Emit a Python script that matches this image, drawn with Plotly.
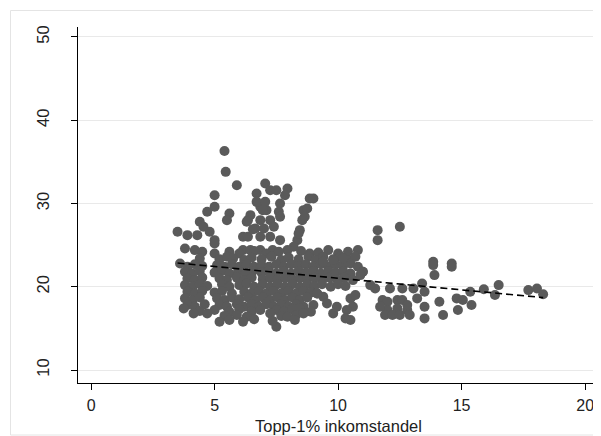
import plotly.graph_objects as go

# Upper scatter (above the dense core)
upper_pts = [
    (5.4, 36.3), (5.45, 33.8), (5.9, 32.2), (5.0, 31.0), (5.0, 29.6), (5.6, 28.8), (5.5, 28.0),
    (4.7, 29.0), (4.4, 27.8), (4.55, 27.2), (3.5, 26.6), (3.9, 26.2), (4.3, 26.2), (4.8, 26.6),
    (5.0, 25.6), (3.8, 24.6), (4.2, 24.4), (4.5, 24.2), (5.0, 25.2), (5.0, 24.0), (4.4, 23.4),
    (6.15, 26.0), (6.35, 26.0), (6.45, 28.6), (6.35, 28.0), (6.85, 29.6), (6.7, 31.2), (7.05, 32.4),
    (7.25, 31.6), (7.5, 31.6), (7.95, 31.8), (7.65, 30.0), (7.6, 29.0), (7.1, 29.2), (6.85, 28.0),
    (7.25, 28.0), (6.65, 27.0), (8.85, 30.6), (9.0, 30.6), (8.6, 29.2), (8.55, 28.0), (8.45, 26.8),
    (8.35, 25.6), (8.2, 24.8), (6.85, 26.0), (7.25, 26.0), (7.65, 25.6), (6.15, 24.4), (6.45, 24.4),
    (6.85, 24.4), (7.35, 24.4), (7.95, 24.4), (11.6, 26.8), (11.6, 25.6), (12.5, 27.2), (10.8, 24.4),
    (10.4, 24.2), (8.85, 24.0), (7.85, 31.0), (6.7, 30.2), (7.05, 30.2), (6.95, 29.2), (6.3, 27.8),
    (7.65, 28.4), (6.55, 26.9), (8.75, 29.4), (8.65, 28.4), (8.4, 26.4), (7.0, 27.0), (7.4, 27.2),
]

# Dense core
core_pts = [
    (5.6, 24.2), (6.0, 24.0), (6.6, 24.3), (7.1, 24.0), (7.6, 24.2), (8.5, 24.3), (9.2, 24.1),
    (9.6, 24.4), (10.0, 24.0),
    (5.2, 23.3), (5.5, 23.6), (5.75, 23.4), (6.2, 23.2), (6.5, 23.5), (6.9, 23.3), (7.3, 23.6),
    (7.7, 23.2), (8.0, 23.5), (8.4, 23.3), (8.8, 23.6), (9.1, 23.2), (9.4, 23.6), (9.8, 23.3),
    (10.1, 23.6), (10.4, 23.2), (10.7, 23.6),
    (3.6, 22.8), (3.9, 22.4), (4.2, 22.7), (4.5, 22.5), (5.1, 22.6), (5.4, 22.4), (5.7, 22.7),
    (6.0, 22.4), (6.3, 22.7), (6.6, 22.4), (6.9, 22.6), (7.2, 22.4), (7.5, 22.7), (7.8, 22.4),
    (8.1, 22.7), (8.4, 22.5), (8.7, 22.7), (9.0, 22.4), (9.3, 22.7), (9.6, 22.4), (9.9, 22.7),
    (10.2, 22.5), (10.5, 22.8), (10.8, 22.4),
    (3.8, 21.8), (4.1, 21.6), (4.4, 21.9), (5.0, 21.7), (5.3, 21.9), (5.6, 21.6), (5.95, 21.9),
    (6.25, 21.6), (6.55, 21.9), (6.9, 21.7), (7.2, 21.9), (7.5, 21.6), (7.8, 21.9), (8.1, 21.6),
    (8.4, 21.9), (8.7, 21.7), (9.0, 21.9), (9.3, 21.6), (9.6, 21.9), (9.9, 21.7), (10.2, 21.9),
    (10.5, 21.6), (11.0, 21.8),
    (3.9, 21.0), (4.2, 20.8), (4.5, 21.1), (5.2, 21.0), (5.5, 20.8), (5.9, 21.1), (6.2, 20.8),
    (6.5, 21.1), (6.95, 20.9), (7.25, 21.1), (7.55, 20.8), (7.85, 21.1), (8.15, 20.8), (8.45, 21.1),
    (8.75, 20.9), (9.05, 21.1), (9.35, 20.8), (9.65, 21.1), (9.95, 20.9), (10.25, 21.1), (10.6, 20.8),
    (3.8, 20.2), (4.1, 20.0), (4.4, 20.3), (4.7, 20.1), (5.3, 20.3), (5.6, 20.0), (6.0, 20.2),
    (6.3, 20.4), (6.6, 20.0), (6.95, 20.3), (7.25, 20.0), (7.55, 20.3), (7.85, 20.0), (8.15, 20.3),
    (8.45, 20.0), (8.75, 20.3), (9.05, 20.1), (9.35, 20.3), (9.7, 20.0), (10.0, 20.3), (10.3, 20.1),
    (3.9, 19.4), (4.2, 19.2), (4.5, 19.5), (5.0, 19.3), (5.3, 19.5), (5.7, 19.2), (6.2, 19.4),
    (6.5, 19.2), (6.8, 19.5), (7.1, 19.2), (7.4, 19.5), (7.7, 19.2), (8.0, 19.5), (8.3, 19.2),
    (8.6, 19.5), (8.9, 19.3), (9.15, 19.2),
    (3.8, 18.6), (4.1, 18.4), (4.4, 18.7), (5.1, 18.6), (5.4, 18.4), (5.7, 18.7), (6.0, 18.5),
    (6.35, 18.7), (6.65, 18.4), (6.95, 18.7), (7.25, 18.4), (7.55, 18.7), (7.85, 18.4), (8.15, 18.7),
    (8.45, 18.4), (8.75, 18.7), (9.4, 18.8),
    (3.9, 17.8), (4.2, 17.6), (4.6, 17.9), (5.2, 17.8), (5.5, 17.6), (5.9, 17.9), (6.2, 17.6),
    (6.5, 17.9), (6.8, 17.6), (7.1, 17.9), (7.4, 17.6), (7.7, 17.9), (8.0, 17.6), (8.3, 17.9),
    (8.6, 17.6), (9.0, 17.8),
    (3.75, 17.4), (4.4, 17.1), (5.0, 17.2), (5.6, 17.0), (6.0, 17.3), (6.5, 17.0), (6.85, 17.2),
    (7.5, 17.2), (7.8, 17.0), (8.15, 17.3), (8.45, 17.4), (8.9, 17.0),
    (4.15, 16.8), (4.7, 16.8), (5.4, 16.5), (5.9, 16.6), (6.3, 16.4), (7.25, 16.8), (7.7, 16.5),
    (8.3, 16.6), (8.6, 16.8),
    (5.2, 15.8), (5.6, 16.0), (6.15, 15.8), (6.6, 16.1), (7.95, 16.4), (8.25, 16.0), (7.5, 15.2),
    (7.35, 15.9),
]

# Right tail
tail_pts = [
    (10.2, 23.4), (9.8, 23.2), (9.4, 23.0), (11.0, 21.8), (10.9, 21.4), (11.3, 20.2), (11.5, 19.8),
    (12.1, 19.8), (12.6, 19.8), (13.05, 19.8), (13.4, 20.4), (13.5, 19.4), (13.2, 18.6), (13.85, 23.0),
    (13.85, 22.6), (13.9, 21.4), (14.6, 22.8), (14.6, 22.4), (14.1, 18.2), (13.5, 17.6), (14.25, 16.6),
    (13.5, 16.2), (11.8, 18.4), (12.0, 18.2), (12.4, 18.4), (12.6, 18.4), (12.0, 17.2), (12.4, 17.4),
    (12.8, 17.2), (11.9, 16.6), (12.2, 16.6), (12.5, 16.6), (12.9, 16.6), (11.7, 17.6), (12.8, 17.8),
    (10.5, 18.6), (10.7, 19.0), (10.6, 17.6), (10.35, 17.2), (9.8, 16.8), (10.5, 16.0), (10.3, 16.2),
    (9.55, 18.0), (9.15, 19.2), (9.95, 17.6), (14.8, 18.6), (14.85, 17.2), (15.05, 18.4),
    (15.35, 19.4), (15.4, 17.8), (15.9, 19.7), (16.35, 19.0), (16.5, 20.2), (17.7, 19.6),
    (18.05, 19.8), (18.3, 19.1),
]

# Fitted line
fit_x = [3.5, 18.3]
fit_y = [22.85, 18.7]

x_ticks = [0, 5, 10, 15, 20]
y_ticks = [10, 20, 30, 40, 50]
x_title = "Topp-1% inkomstandel"

all_pts = upper_pts + core_pts + tail_pts
xs = [p[0] for p in all_pts]
ys = [p[1] for p in all_pts]

fig = go.Figure()
fig.add_trace(go.Scatter(
    x=xs, y=ys, mode="markers",
    marker=dict(size=10, color="#5a5a5a", line=dict(width=0)),
    showlegend=False, hoverinfo="skip",
))
fig.add_trace(go.Scatter(
    x=fit_x, y=fit_y, mode="lines",
    line=dict(color="black", width=1.6, dash="7px,4px"),
    showlegend=False, hoverinfo="skip",
))

# page has an 8px body margin; figure is sized to fit the 601x436 window
W, H = 593, 428
L, R, T, B = 70, 6, 19, 53
pw, ph = W - L - R, H - T - B

fig.update_layout(
    width=W, height=H,
    margin=dict(l=L, r=R, t=T, b=B, autoexpand=False),
    paper_bgcolor="white", plot_bgcolor="white",
    font=dict(family="Liberation Sans, Arial, sans-serif", size=16, color="#222"),
    xaxis=dict(
        range=[-0.53, 20.4], tickvals=x_ticks, ticks="outside", ticklen=6, tickcolor="black",
        showline=True, linecolor="black", linewidth=1, showgrid=False, zeroline=False,
        tickfont=dict(size=16), ticklabelstandoff=2,
        automargin=False,
    ),
    yaxis=dict(
        range=[8.44, 51.2], tickvals=y_ticks, ticks="outside", ticklen=6, tickcolor="black",
        showline=True, linecolor="black", linewidth=1, showgrid=True, gridcolor="#e9e9e9",
        gridwidth=1, zeroline=False, tickangle=-90, tickfont=dict(size=16.5),
        ticklabelstandoff=15, automargin=False,
    ),
    annotations=[dict(
        text=x_title, xref="x", yref="paper", x=10, y=(H - B - 418) / ph,
        xanchor="center", yanchor="middle", showarrow=False, font=dict(size=16.5),
    )],
    shapes=[dict(
        type="rect", xref="paper", yref="paper",
        x0=(2.5 - L) / pw, x1=(592 - L) / pw,
        y0=(H - B - 427) / ph, y1=(H - B - 2.5) / ph,
        line=dict(color="#e4e4e4", width=1), layer="below",
    )],
)

fig.write_html("out.html")
